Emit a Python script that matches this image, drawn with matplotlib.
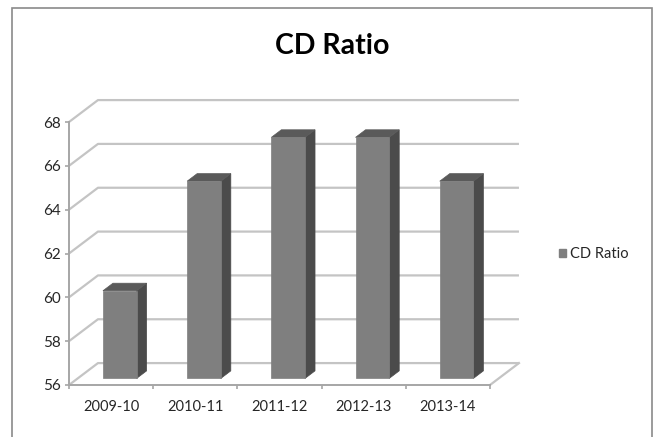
import matplotlib
matplotlib.use("Agg")
import matplotlib.pyplot as plt
from matplotlib.patches import Polygon, Rectangle, Patch

plt.rcParams['font.family'] = ['Lato', 'DejaVu Sans']

# Data
categories = ["2009-10", "2010-11", "2011-12", "2012-13", "2013-14"]
cd_ratio = [60, 65, 67, 67, 65]
y_ticks = [56, 58, 60, 62, 64, 66, 68]
series_name = "CD Ratio"

W, H = 654, 437
fig = plt.figure(figsize=(W / 100, H / 100), dpi=100)
fig.patch.set_facecolor("white")

# Front plane of the 3-D box
ax = fig.add_axes([69 / W, (H - 385) / H, 421 / W, 263 / H])
ax.set_xlim(0, len(categories))
ax.set_ylim(56, 68)
ax.set_facecolor("none")

# depth offsets (in data units) for the receding walls
kx, ky = 0.344, 1.0

grid_c = "#c4c4c4"
axis_c = "#a6a6a6"
text_c = "#262626"

# left wall diagonals + back-wall gridlines
for v in y_ticks:
    ax.plot([0, kx, len(categories) + kx], [v, v + ky, v + ky],
            color=grid_c, lw=1.6, clip_on=False, zorder=1,
            solid_capstyle="butt")
# floor right edge
ax.plot([len(categories), len(categories) + kx], [56, 56 + ky],
        color=grid_c, lw=1.6, clip_on=False, zorder=1)

# 3-D columns
d0, d1 = 0.30, 0.645
bw = 0.40
front_c, side_c, top_c = "#7f7f7f", "#4b4b4b", "#5a5a5a"
for i, v in enumerate(cd_ratio):
    x0 = i + 0.5 - bw / 2
    x1 = i + 0.5 + bw / 2
    front = [(x0 + d0 * kx, 56 + d0 * ky), (x1 + d0 * kx, 56 + d0 * ky),
             (x1 + d0 * kx, v + d0 * ky), (x0 + d0 * kx, v + d0 * ky)]
    side = [(x1 + d0 * kx, 56 + d0 * ky), (x1 + d1 * kx, 56 + d1 * ky),
            (x1 + d1 * kx, v + d1 * ky), (x1 + d0 * kx, v + d0 * ky)]
    top = [(x0 + d0 * kx, v + d0 * ky), (x1 + d0 * kx, v + d0 * ky),
           (x1 + d1 * kx, v + d1 * ky), (x0 + d1 * kx, v + d1 * ky)]
    for pts, c in ((side, side_c), (top, top_c), (front, front_c)):
        ax.add_patch(Polygon(pts, closed=True, facecolor=c, edgecolor=c,
                             lw=0.5, clip_on=False, zorder=3))

# axes styling
for s in ("top", "right"):
    ax.spines[s].set_visible(False)
for s in ("left", "bottom"):
    ax.spines[s].set_color(axis_c)
    ax.spines[s].set_linewidth(1.4)
    ax.spines[s].set_zorder(2)

ax.set_yticks(y_ticks)
ax.set_yticklabels([str(t) for t in y_ticks])
ax.tick_params(axis="y", length=3, width=1.2, color=axis_c, pad=3,
               labelsize=11, labelcolor=text_c)

ax.set_xticks(range(len(categories) + 1))
ax.set_xticklabels([])
ax.set_xticks([i + 0.5 for i in range(len(categories))], minor=True)
ax.set_xticklabels(categories, minor=True)
ax.tick_params(axis="x", which="major", length=3, width=1.2, color=axis_c)
ax.tick_params(axis="x", which="minor", length=0, pad=11,
               labelsize=10.5, labelcolor=text_c)

# title
fig.text(332 / W, 1 - 46 / H, "CD Ratio", ha="center", va="center",
         fontsize=20.5, fontweight="bold", color="black")

# legend
handle = Patch(facecolor=front_c, edgecolor=front_c)
fig.legend([handle], [series_name], loc="center left",
           bbox_to_anchor=(559 / W, 1 - 254 / H), frameon=False,
           handlelength=0.5, handleheight=0.5, handletextpad=0.25,
           borderpad=0, borderaxespad=0, fontsize=10.5, labelcolor=text_c)

# chart area border
fig.add_artist(Rectangle((12 / W, -0.05), (652 - 12) / W, (H - 8) / H + 0.05,
                         transform=fig.transFigure, facecolor="none",
                         edgecolor="#8a8a8a", lw=1.2, zorder=0))

fig.savefig("out.png", dpi=100)
